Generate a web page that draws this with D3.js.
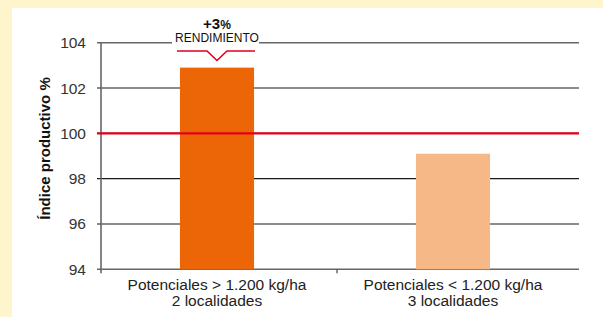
<!DOCTYPE html>
<html>
<head>
<meta charset="utf-8">
<script src="https://cdn.jsdelivr.net/npm/d3@7"></script>
<style>
  body { margin: 0; background: #fff5cc; }
  svg { display: block; font-family: "Liberation Sans", Arial, sans-serif; }
</style>
</head>
<body>
<svg id="chart" width="603" height="317"></svg>
<script>
// data
var categories = ["Potenciales > 1.200 kg/ha|2 localidades", "Potenciales < 1.200 kg/ha|3 localidades"];
var values = [102.9, 99.1];
var barColors = ["#ec6608", "#f6b886"];
var yTicks = [94, 96, 98, 100, 102, 104];
var reference = 100;
var annotation = { big: "+3", small: "%", label: "RENDIMIENTO" };

var svg = d3.select("#chart");

// white panel on cream background
svg.append("rect")
    .attr("x", 12).attr("y", 8)
    .attr("width", 591).attr("height", 309)
    .attr("fill", "#ffffff");

var left = 101, right = 579;
var x = d3.scaleBand().domain(categories).range([left, 573]).paddingInner(0.686).paddingOuter(0.343);
var y = d3.scaleLinear().domain([94, 104]).range([269.3, 42.7]);

// grid lines
var g = svg.append("g");
g.append("g")
    .selectAll("line")
    .data(yTicks)
    .enter()
    .append("line")
    .attr("x1", left - 4)
    .attr("x2", right)
    .attr("y1", function(d) { return y(d); })
    .attr("y2", function(d) { return y(d); })
    .attr("stroke", function(d) { return (d == 104 || d == 94) ? "#666" : "#1a1a1a"; })
    .attr("stroke-width", function(d) { return (d == 104 || d == 94) ? 1.6 : 1.2; });

// y tick labels
g.append("g")
    .selectAll("text")
    .data(yTicks)
    .enter()
    .append("text")
    .attr("x", 86)
    .attr("y", function(d) { return y(d) + 5.5; })
    .attr("text-anchor", "end")
    .attr("font-size", "15.5px")
    .attr("fill", "#333")
    .text(function(d) { return d; });

// bars
g.append("g")
    .selectAll("rect")
    .data(values)
    .enter()
    .append("rect")
    .attr("x", function(d, i) { return x(categories[i]) - 2; })
    .attr("width", x.bandwidth())
    .attr("y", function(d) { return y(d); })
    .attr("height", function(d) { return y(94) - y(d); })
    .attr("fill", function(d, i) { return barColors[i]; });

// y axis line
svg.append("line")
    .attr("x1", left).attr("x2", left)
    .attr("y1", y(104)).attr("y2", y(94) + 4)
    .attr("stroke", "#666").attr("stroke-width", 1.6);

// category divider tick
svg.append("line")
    .attr("x1", 337).attr("x2", 337)
    .attr("y1", y(94)).attr("y2", y(94) + 4)
    .attr("stroke", "#444").attr("stroke-width", 1.2);

// reference line at 100
svg.append("line")
    .attr("x1", left - 4).attr("x2", right)
    .attr("y1", y(reference)).attr("y2", y(reference))
    .attr("stroke", "#e2001a").attr("stroke-width", 2.2);

// category labels
categories.forEach(function(c, i) {
    var cx = x(c) - 2 + x.bandwidth() / 2;
    var parts = c.split("|");
    parts.forEach(function(p, j) {
        svg.append("text")
            .attr("x", cx)
            .attr("y", 290 + j * 15.5)
            .attr("text-anchor", "middle")
            .attr("font-size", "15.5px")
            .attr("fill", "#222")
            .text(p);
    });
});

// y title
svg.append("text")
    .attr("transform", "translate(50," + 148.5 + ") rotate(-90)")
    .attr("text-anchor", "middle")
    .attr("font-size", "15px")
    .attr("font-weight", "bold")
    .attr("fill", "#111")
    .text("Índice productivo %");

// annotation above first bar
var ax = x(categories[0]) - 2 + x.bandwidth() / 2;
svg.append("rect")
    .attr("x", ax - 45).attr("y", 34)
    .attr("width", 87).attr("height", 14)
    .attr("fill", "#ffffff");
var t = svg.append("text")
    .attr("x", ax)
    .attr("y", 29)
    .attr("text-anchor", "middle")
    .attr("fill", "#111")
    .attr("font-weight", "bold");
t.append("tspan").attr("font-size", "15px").text(annotation.big);
t.append("tspan").attr("font-size", "12px").text(annotation.small);
svg.append("text")
    .attr("x", ax)
    .attr("y", 42)
    .attr("text-anchor", "middle")
    .attr("font-size", "12px")
    .attr("fill", "#111")
    .text(annotation.label);

var bracket = [[ax - 40, 51], [ax - 10, 51], [ax, 60.5], [ax + 10, 51], [ax + 38, 51]];
svg.append("path")
    .attr("d", d3.line()(bracket))
    .attr("fill", "none")
    .attr("stroke", "#e2001a")
    .attr("stroke-width", 1.6);
</script>
</body>
</html>
